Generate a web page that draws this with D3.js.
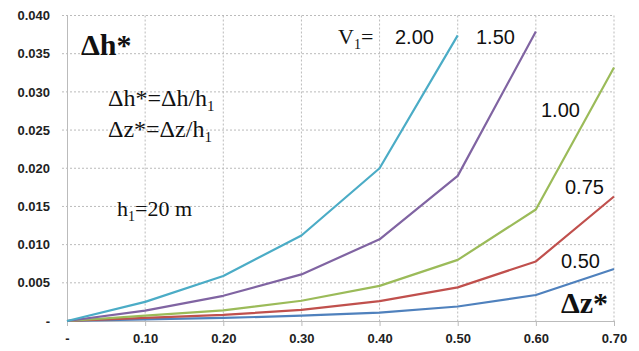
<!DOCTYPE html>
<html>
<head>
<meta charset="utf-8">
<script src="https://cdn.jsdelivr.net/npm/d3@7"></script>
<style>
  body { margin: 0; background: #fff; }
  svg { display: block; }
  .tick text { font-family: "Liberation Sans", Arial, sans-serif; font-weight: bold; font-size: 13px; fill: #222; }
</style>
</head>
<body>
<svg id="chart" width="639" height="351"></svg>
<script>
// data
const dz = [0, 0.10, 0.20, 0.30, 0.40, 0.50, 0.60, 0.70];
const v200 = [0, 0.0025, 0.0059, 0.0112, 0.0200, 0.0374];
const v150 = [0, 0.00135, 0.0033, 0.0061, 0.0107, 0.0190, 0.0379];
const v100 = [0, 0.0007, 0.0014, 0.00265, 0.0046, 0.0080, 0.0146, 0.0332];
const v075 = [0, 0.0004, 0.0008, 0.00145, 0.0026, 0.0044, 0.0078, 0.0163];
const v050 = [0, 0.0002, 0.0004, 0.0007, 0.0011, 0.0019, 0.0034, 0.0068];
const yTicks = [0, 0.005, 0.010, 0.015, 0.020, 0.025, 0.030, 0.035, 0.040];

const series = [
  { name: "0.50", vals: v050, color: "#4F81BD" },
  { name: "0.75", vals: v075, color: "#C0504D" },
  { name: "1.00", vals: v100, color: "#9BBB59" },
  { name: "1.50", vals: v150, color: "#8064A2" },
  { name: "2.00", vals: v200, color: "#4BACC6" }
];

const svg = d3.select("#chart");
const x = d3.scaleLinear().domain([0, 0.7]).range([67, 614]);
const y = d3.scaleLinear().domain([0, 0.04]).range([321, 15.5]);

// gridlines
svg.append("g").selectAll("line").data(yTicks.slice(1)).join("line")
  .attr("x1", 62).attr("x2", x(0.7))
  .attr("y1", d => y(d)).attr("y2", d => y(d))
  .attr("stroke", "#bbb").attr("stroke-dasharray", "2,2");
svg.append("g").selectAll("line").data(dz.slice(1)).join("line")
  .attr("x1", d => x(d)).attr("x2", d => x(d))
  .attr("y1", y(0.04)).attr("y2", y(0))
  .attr("stroke", "#bbb").attr("stroke-dasharray", "2,2");

// axes
const fmt = d => d === 0 ? "-" : d3.format(".3f")(d);
const yAxis = svg.append("g").attr("transform", `translate(${x(0)},0)`)
  .call(d3.axisLeft(y).tickValues(yTicks).tickFormat(fmt).tickSize(0).tickPadding(17));
yAxis.select(".domain").attr("stroke", "#bbb");

const xAxis = svg.append("g").attr("transform", `translate(0,${y(0)})`)
  .call(d3.axisBottom(x).tickValues(dz).tickFormat(d => d === 0 ? "-" : d3.format(".2f")(d)).tickSize(5).tickPadding(8));
xAxis.select(".domain").attr("stroke", "#bbb");
xAxis.selectAll(".tick line").attr("stroke", "#bbb");

// lines
const line = d3.line().x((d, i) => x(dz[i])).y(d => y(d));
svg.append("g").selectAll("path").data(series).join("path")
  .attr("d", d => line(d.vals))
  .attr("fill", "none")
  .attr("stroke", d => d.color)
  .attr("stroke-width", 2.2)
  .attr("stroke-linejoin", "round");

// annotations
const serif = "'Liberation Serif', 'Times New Roman', serif";
const sans = "'Liberation Sans', 'Open Sans', Arial, sans-serif";

function label(xp, yp, size, family, weight) {
  return svg.append("text").attr("x", xp).attr("y", yp)
    .attr("font-size", size).attr("font-family", family)
    .attr("font-weight", weight || "normal").attr("fill", "#111");
}

// Δh* title
label(81, 55, 30, serif, "bold").text("Δh*");
// definitions
let t1 = label(108, 106, 24, serif);
t1.append("tspan").text("Δh*=Δh/h");
t1.append("tspan").attr("font-size", 15).attr("dy", 5).text("1");
let t2 = label(108, 137, 24, serif);
t2.append("tspan").text("Δz*=Δz/h");
t2.append("tspan").attr("font-size", 15).attr("dy", 5).text("1");
let t3 = label(117, 216, 22, serif);
t3.append("tspan").text("h");
t3.append("tspan").attr("font-size", 14).attr("dy", 5).text("1");
t3.append("tspan").attr("dy", -5).text("=20 m");
// V1=
let t4 = label(338, 44, 22, serif);
t4.append("tspan").text("V");
t4.append("tspan").attr("font-size", 14).attr("dy", 5).text("1");
t4.append("tspan").attr("dy", -5).text("=");

// series labels
label(395, 44, 20, sans).text(series[4].name);
label(476, 44, 20, sans).text(series[3].name);
label(541, 117, 20, sans).text(series[2].name);
label(565, 194, 20, sans).text(series[1].name);
label(561, 268, 20, sans).text(series[0].name);
// Δz*
label(561, 313, 30, serif, "bold").text("Δz*");
</script>
</body>
</html>
